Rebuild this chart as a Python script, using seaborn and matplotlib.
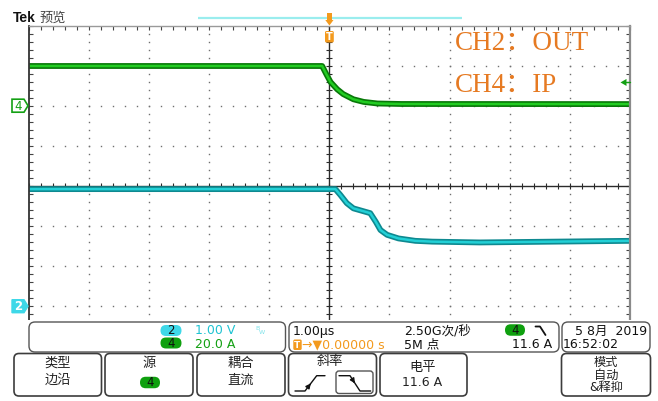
import numpy as np
import pandas as pd
import matplotlib
matplotlib.use("Agg")
import matplotlib.pyplot as plt
from matplotlib.patches import FancyBboxPatch, Rectangle, Polygon
import seaborn as sns

sns.set_theme(style="white")
plt.rcParams['font.family'] = ['DejaVu Sans', 'Noto Sans CJK SC']

# waveforms, time in us
t_ch4 = [-5.0, -0.12, -0.05, 0.02, 0.13, 0.23, 0.40, 0.57, 0.80, 1.20, 5.0]
i_ch4 = [19.8, 19.8, 15.7, 11.8, 8.2, 5.8, 3.2, 1.9, 1.1, 0.85, 0.8]     # A

t_ch2 = [-5.0, 0.10, 0.18, 0.29, 0.40, 0.54, 0.68, 0.77, 0.85, 0.96, 1.15, 1.43, 1.71, 2.5, 5.0]
v_ch2 = [2.92, 2.92, 2.78, 2.57, 2.44, 2.38, 2.32, 2.11, 1.90, 1.78, 1.69, 1.63, 1.61, 1.59, 1.63]  # V

ch2_scale = 1.00    # V/div
ch4_scale = 20.0    # A/div
ch2_pos = -3.0      # div
ch4_pos = 2.0       # div
trig_level = 11.6   # A

# screen geometry (pixels)
W, H = 658, 401
gx0, gx1 = 28.7, 630.0
gy0, div_px = 25.5, 40.1

def ypix(div):
    return gy0 + (4 - div) * div_px

orange = '#F39A1E'
txt_orange = '#E67A22'
green = '#13A013'
cyan = '#1EC3D2'

fig = plt.figure(figsize=(W / 100, H / 100), dpi=100)
ax = fig.add_axes([gx0 / W, 1 - (gy0 + 8 * div_px) / H, (gx1 - gx0) / W, 8 * div_px / H])
ax.set_zorder(1)
ax.set_xlim(-5, 5)
ax.set_ylim(-4, 4)
ax.set_facecolor('white')

# graticule
fine_x = np.arange(-5, 5.001, 0.2)
fine_y = np.arange(-4, 4.001, 0.2)
for gy in range(-3, 4):
    if gy != 0:
        ax.plot(fine_x, np.full_like(fine_x, gy), ls='none', marker='s', ms=1.0, color='#707070', mew=0)
for gx in range(-4, 5):
    if gx != 0:
        ax.plot(np.full_like(fine_y, gx), fine_y, ls='none', marker='s', ms=1.0, color='#707070', mew=0)
ax.axhline(0, color='#2b2b2b', lw=1.0)
ax.axvline(0, color='#2b2b2b', lw=1.0)
ax.plot(fine_x, np.zeros_like(fine_x), ls='none', marker='|', ms=4.5, mew=0.8, color='#2b2b2b')
ax.plot(np.zeros_like(fine_y), fine_y, ls='none', marker='_', ms=4.5, mew=0.8, color='#2b2b2b')

ax.set_xticks(np.arange(-5, 5.001, 1))
ax.set_yticks(np.arange(-4, 4.001, 1))
ax.set_xticks(fine_x, minor=True)
ax.set_yticks(fine_y, minor=True)
ax.tick_params(which='both', direction='in', length=3, width=0.8, color='#444',
               top=True, bottom=True, left=True, right=True,
               labelbottom=False, labelleft=False)
for side, col, lw in [('left', '#333333', 1.3), ('top', '#9a9a9a', 1.0),
                      ('right', '#8a8a8a', 1.6), ('bottom', '#9a9a9a', 0.0)]:
    ax.spines[side].set_visible(True)
    ax.spines[side].set_color(col)
    ax.spines[side].set_linewidth(lw)

# traces
df4 = pd.DataFrame({'t': t_ch4, 'div': np.array(i_ch4) / ch4_scale + ch4_pos})
df2 = pd.DataFrame({'t': t_ch2, 'div': np.array(v_ch2) / ch2_scale + ch2_pos})
sns.lineplot(data=df4, x='t', y='div', ax=ax, color='#087808', lw=4.2, estimator=None, sort=False)
sns.lineplot(data=df4, x='t', y='div', ax=ax, color='#22CC22', lw=1.8, estimator=None, sort=False)
sns.lineplot(data=df2, x='t', y='div', ax=ax, color='#0E8990', lw=4.2, estimator=None, sort=False)
sns.lineplot(data=df2, x='t', y='div', ax=ax, color='#22D0D6', lw=1.8, estimator=None, sort=False)
ax.set_xlabel('')
ax.set_ylabel('')

# overlay in pixel coordinates for the scope readouts
ov = fig.add_axes([0, 0, 1, 1])
ov.set_zorder(5)
ov.set_xlim(0, W)
ov.set_ylim(H, 0)
ov.axis('off')
ov.patch.set_visible(False)

ov.add_patch(Rectangle((0, 320), W, H - 320, fc='white', ec='none', zorder=0))

def rbox(x, y, w, h, r=5, ec='#555555', fc='white', lw=1.0, z=1):
    ov.add_patch(FancyBboxPatch((x, y), w, h, boxstyle=f"round,pad=0,rounding_size={r}",
                                ec=ec, fc=fc, lw=lw, zorder=z))

def pill(xc, yc, w, h, fc, label, tc='#111111'):
    rbox(xc - w / 2, yc - h / 2, w, h, r=h / 2, ec='none', fc=fc, z=2)
    ov.text(xc, yc + 0.5, label, ha='center', va='center', fontsize=8.5, color=tc, zorder=3)

# header
ov.text(12.5, 18.5, 'Tek', family='Liberation Sans', fontweight='bold', fontsize=10,
        ha='left', va='center', color='#111111')
ov.text(39, 18.5, '预览', family=['Noto Sans CJK SC'], fontsize=9.5, ha='left', va='center', color='#444444')
ov.plot([198, 462], [17.7, 17.7], color='#9AEDEE', lw=1.6, solid_capstyle='butt')

# trigger position marker
ov.add_patch(Rectangle((327.3, 12.5), 4.2, 8, fc=orange, ec='none', zorder=2))
ov.add_patch(Polygon([(325.3, 20), (333.5, 20), (329.4, 25.5)], fc=orange, ec='none', zorder=2))
rbox(325, 31, 8.8, 11.5, r=1.5, ec='none', fc=orange, z=2)
ov.text(329.4, 37, 'T', ha='center', va='center', fontsize=7, fontweight='bold', color='white', zorder=3)

# trigger level marker on the right
ty = ypix(ch4_pos + trig_level / ch4_scale)
ov.add_patch(Polygon([(620.5, ty), (626.5, ty - 3.5), (626.5, ty + 3.5)], fc=green, ec='none', zorder=2))
ov.plot([626, 630], [ty, ty], color=green, lw=1)

# channel ground markers
y4 = ypix(ch4_pos)
ov.add_patch(Polygon([(12, y4 - 6.5), (24, y4 - 6.5), (28, y4), (24, y4 + 6.5), (12, y4 + 6.5)],
                     fc='white', ec=green, lw=1.2, zorder=2))
ov.text(18.5, y4 + 0.5, '4', ha='center', va='center', fontsize=8.5, color=green, zorder=3)
y2 = ypix(ch2_pos)
ov.add_patch(Polygon([(12, y2 - 6.5), (24, y2 - 6.5), (28, y2), (24, y2 + 6.5), (12, y2 + 6.5)],
                     fc='#3ED8E8', ec='#3ED8E8', lw=1.0, zorder=2))
ov.text(18.5, y2 + 0.5, '2', ha='center', va='center', fontsize=8.5, color='white',
        fontweight='bold', zorder=3)

# annotation text
ov.text(455, 43, 'CH2：OUT', family=['Liberation Serif', 'Noto Sans CJK SC'], fontsize=19.5,
        ha='left', va='center', color=txt_orange)
ov.text(455, 85, 'CH4：IP', family=['Liberation Serif', 'Noto Sans CJK SC'], fontsize=19.5,
        ha='left', va='center', color=txt_orange)

# readout panels
rbox(29, 322, 256.5, 30, r=6)
rbox(289, 322, 270, 30, r=6)
rbox(562, 322, 88, 30, r=6)

fs = 9
pill(171, 330.5, 21, 11, '#3ED8E8', '2')
ov.text(195, 331, '1.00 V', fontsize=fs, color=cyan, va='center')
ov.text(255, 328, 'B', fontsize=4.5, color='#7FE3EA', va='center')
ov.text(258.5, 332.5, 'W', fontsize=4.5, color='#7FE3EA', va='center')
pill(171, 343, 21, 11, '#0FA00F', '4')
ov.text(195, 344.5, '20.0 A', fontsize=fs, color=green, va='center')

ov.text(293, 331, '1.00µs', fontsize=fs, color='#111111', va='center')
rbox(293.3, 339.5, 8.4, 10.5, r=1.5, ec='none', fc=orange, z=2)
ov.text(297.5, 345, 'T', fontsize=6.5, fontweight='bold', color='white', ha='center', va='center', zorder=3)
ov.text(302.5, 345, '→▼0.00000 s', fontsize=fs, color=orange, va='center')
ov.text(404, 331, '2.50G次/秒', fontsize=fs, color='#111111', va='center')
ov.text(404, 345, '5M 点', fontsize=fs, color='#111111', va='center')
pill(515, 330, 20, 11.5, '#0FA00F', '4')
ov.plot([535.5, 540, 545.5], [326.5, 326.5, 335], color='#111111', lw=1.3)
ov.text(552, 345, '11.6 A', fontsize=fs, color='#111111', va='center', ha='right')

ov.text(611, 331, '5 8月  2019', fontsize=fs, color='#111111', va='center', ha='center')
ov.text(563, 344.5, '16:52:02', fontsize=fs, color='#111111', va='center', ha='left')

# soft-key buttons
for bx, bw in [(14, 87.5), (105, 88), (197, 88), (288.5, 88), (380, 87), (561.5, 89)]:
    rbox(bx, 353.5, bw, 42.5, r=5, ec='#3c3c3c', lw=1.2)

cfs = 9.5
ov.text(58, 363.5, '类型', fontsize=cfs, ha='center', va='center', color='#222222')
ov.text(58, 380, '边沿', fontsize=cfs, ha='center', va='center', color='#222222')
ov.text(149, 363.5, '源', fontsize=cfs, ha='center', va='center', color='#222222')
pill(150, 382.5, 20, 11.5, '#0FA00F', '4')
ov.text(241, 363.5, '耦合', fontsize=cfs, ha='center', va='center', color='#222222')
ov.text(241, 380, '直流', fontsize=cfs, ha='center', va='center', color='#222222')
ov.text(330, 362, '斜率', fontsize=cfs, ha='center', va='center', color='#222222')
ov.text(422.5, 368, '电平', fontsize=cfs, ha='center', va='center', color='#222222')
ov.text(422.5, 382.5, '11.6 A', fontsize=fs, ha='center', va='center', color='#222222')
ov.text(606, 362, '模式', fontsize=8.8, ha='center', va='center', color='#222222')
ov.text(606, 375.5, '自动', fontsize=8.8, ha='center', va='center', color='#222222')
ov.text(606, 388, '&释抑', fontsize=8.8, ha='center', va='center', color='#222222')

# slope icons
ov.plot([295, 305, 316.7, 325], [391, 391, 375.7, 375.7], color='#111111', lw=1.0)
ov.annotate('', xy=(312.5, 381.2), xytext=(308, 387),
            arrowprops=dict(arrowstyle='-|>', color='#111111', lw=1.0, mutation_scale=7))
rbox(336, 371, 37, 22.5, r=3, ec='#555555', lw=1.0, z=2)
ov.plot([339, 350, 360, 370.7], [375.7, 375.7, 391, 391], color='#111111', lw=1.0, zorder=3)
ov.annotate('', xy=(356.5, 385.7), xytext=(352.5, 379.5),
            arrowprops=dict(arrowstyle='-|>', color='#111111', lw=1.0, mutation_scale=7), zorder=3)

fig.savefig('out.png', dpi=100)
